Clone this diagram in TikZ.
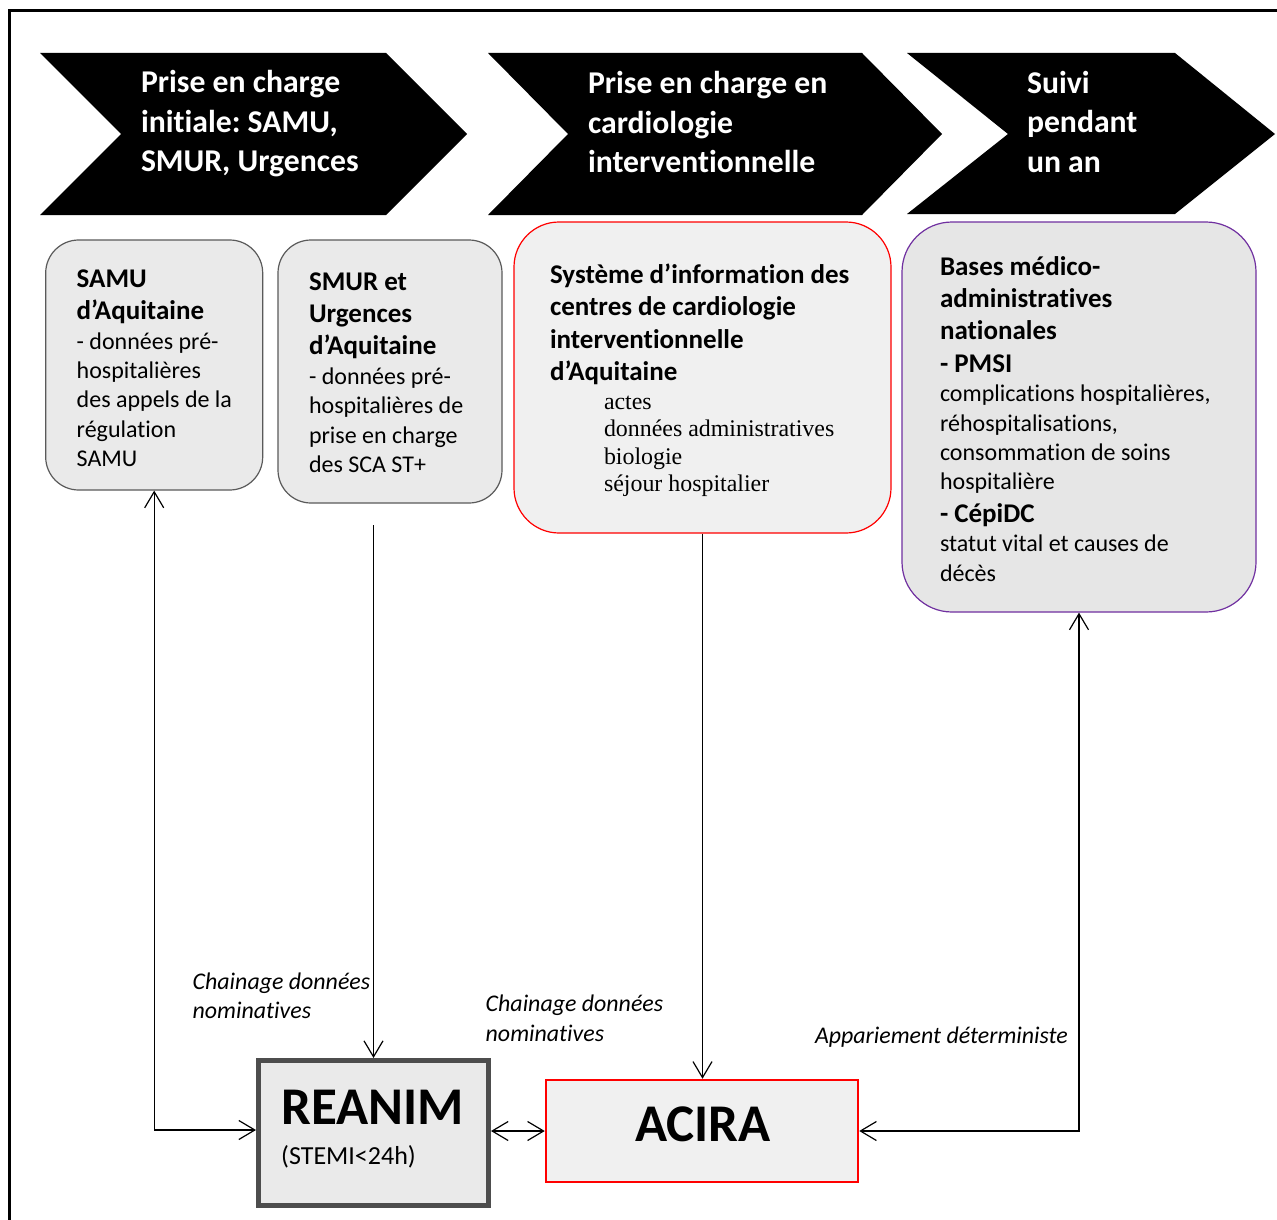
\documentclass[tikz,border=0pt]{standalone}
\usepackage{fontspec}
\setmainfont{Carlito}[Ligatures=NoCommon]
\newfontfamily\mytnr{Liberation Serif}
\usetikzlibrary{arrows.meta}
\definecolor{boxgray}{HTML}{EAEAEA}
\definecolor{boxline}{HTML}{5A5A5A}
\definecolor{sicfill}{HTML}{F0F0F0}
\definecolor{basesfill}{HTML}{E6E6E6}
\definecolor{purpleline}{HTML}{7030A0}
\definecolor{reanimline}{HTML}{4D4D4D}
\newcommand\myfix{\spaceskip=0pt\xspaceskip=0pt\relax}
\newcommand\myhd{\fontsize{27}{32.4}\selectfont\bfseries\myfix}
\newcommand\mybd{\fontsize{24}{29.4}\selectfont\mdseries\myfix}
\newcommand\mych{\fontsize{31.7}{39.5}\selectfont\bfseries\myfix}
\newcommand\mylab{\fontsize{23.9}{29.6}\selectfont\itshape\myfix}
\newcommand\myser{\mytnr\fontsize{23.9}{27.5}\selectfont\myfix}
\setlength{\parskip}{0pt}
\begin{document}
\frenchspacing
\begin{tikzpicture}[x=1pt,y=-1pt,
  >={Straight Barb[length=16pt,width=19pt]},
  txt/.style={anchor=base west, inner sep=0pt, outer sep=0pt, text width=420pt, align=left},
  chev/.style={fill=black},
  chevtxt/.style={txt, text=white},
  grbox/.style={draw=boxline, line width=1.2pt, fill=boxgray, rounded corners=33pt, inner sep=0pt},
  lab/.style={txt},
  conn/.style={line width=1.2pt}
]
\useasboundingbox (0,0) rectangle (1277,1220);
\begin{scope}
\clip (0,0) rectangle (1277,1220);
\fill[white] (0,0) rectangle (1277,1220);
% outer frame
\draw[line width=3pt] (9,1240) -- (9,11) -- (1300,11);
\end{scope}

% chevrons
\fill[chev] (40,53) -- (386,53) -- (467,134) -- (386,215) -- (40,215) -- (121,134) -- cycle;
\fill[chev] (488,53) -- (862,53) -- (942,134) -- (862,215) -- (488,215) -- (568,134) -- cycle;
\fill[chev] (907,53) -- (1175,53) -- (1275,134) -- (1175,214) -- (907,214) -- (1008,134) -- cycle;
\node[chevtxt] (c1T) at (141,93) {\mych Prise en charge\\initiale: SAMU,\\SMUR, Urgences\par};
\node[chevtxt] (c2T) at (588,94) {\mych Prise en charge en\\cardiologie\\interventionnelle\par};
\node[chevtxt] (c3T) at (1027,93.5) {\mych Suivi\\pendant\\un an\par};

% boxes
\node[grbox, minimum width=217pt, minimum height=250pt] (samu) at (154.2,365) {};
\node[grbox, minimum width=224pt, minimum height=263pt] (smur) at (390,371.5) {};
\node[draw=red, line width=1.2pt, fill=sicfill, rounded corners=45pt, inner sep=0pt,
      minimum width=377pt, minimum height=311pt] (sic) at (702.5,377.5) {};
\node[draw=purpleline, line width=1.2pt, fill=basesfill, rounded corners=50pt, inner sep=0pt,
      minimum width=354pt, minimum height=390pt] (bases) at (1079,417) {};

\node[txt] (samuT) at (76.7,287.3) {\myhd SAMU\\d’Aquitaine\par\mybd - données pré-\\hospitalières\\des appels de la\\régulation\\SAMU\par};
\node[txt] (smurT) at (309,290) {\myhd SMUR et\\Urgences\\d’Aquitaine\par\mybd - données pré-\\hospitalières de\\prise en charge\\des SCA ST+\par};
\node[txt] (sicT) at (550,283.3) {\myhd Système d’information des\\centres de cardiologie\\interventionnelle\\d’Aquitaine\par};
\node[txt] (sicL) at (604,409.3) {\myser actes\\données administratives\\biologie\\séjour hospitalier\par};
\node[txt] (basesT) at (940,275) {\myhd Bases médico-\\administratives\\nationales\\- PMSI\par\mybd complications hospitalières,\\réhospitalisations,\\consommation de soins\\hospitalière\par\myhd - CépiDC\par\mybd statut vital et causes de\\décès\par};

% bottom boxes
\node[draw=reanimline, line width=5pt, fill=boxgray, inner sep=0pt,
      minimum width=230pt, minimum height=145pt] (reanim) at (373.5,1133) {};
\node[anchor=base west, inner sep=0pt, font=\fontsize{53}{60}\selectfont\bfseries] (reanimT) at (281,1124) {REANIM};
\node[anchor=base west, inner sep=0pt, font=\fontsize{26}{30}\selectfont] (stemiT) at (281,1164) {(STEMI<24h)};
\node[draw=red, line width=2.5pt, fill=sicfill, inner sep=0pt,
      minimum width=312pt, minimum height=102pt] (acira) at (702,1131) {};
\node[anchor=base, inner sep=0pt, font=\fontsize{53}{60}\selectfont\bfseries] (aciraT) at (703,1141.5) {ACIRA};

% labels
\node[lab] (lab1) at (192.7,989) {\mylab Chainage données\\nominatives\par};
\node[lab] (lab2) at (485.7,1011.7) {\mylab Chainage données\\nominatives\par};
\node[lab] (lab3) at (815,1043.3) {\mylab Appariement déterministe\par};

% connectors
\coordinate (smurout) at (373.5,525);
\draw[conn,<->] (samu.south) |- ([yshift=3pt]reanim.west);
\draw[conn,->] (smurout) -- (reanim.north);
\draw[conn,->] (sic.south) -- (sic.south |- acira.north);
\draw[conn,<->] (bases.south) |- (acira.east);
\draw[conn,<->] (reanim.east |- acira.west) -- (acira.west);
\end{tikzpicture}
\end{document}
